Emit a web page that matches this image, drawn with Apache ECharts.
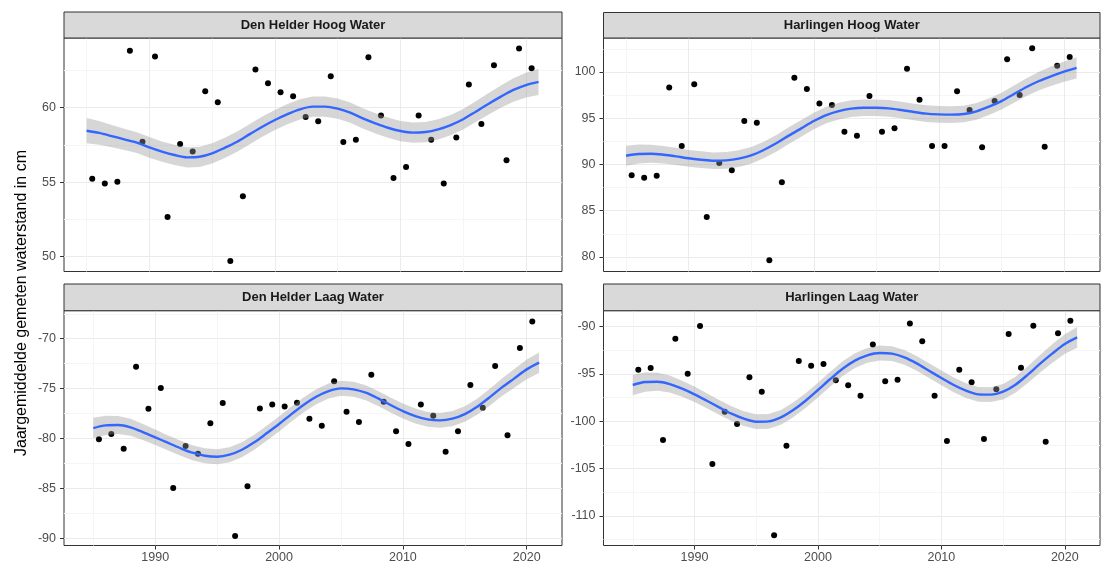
<!DOCTYPE html>
<html><head><meta charset="utf-8">
<script src="https://cdn.jsdelivr.net/npm/echarts@6/dist/echarts.min.js"></script>
<style>html,body{margin:0;padding:0;background:#fff}#c{width:1102px;height:565px}</style>
</head><body><div id="c"></div>
<script>
// ---------- DATA ----------
const years = [1985,1986,1987,1988,1989,1990,1991,1992,1993,1994,1995,1996,1997,1998,1999,2000,2001,2002,2003,2004,2005,2006,2007,2008,2009,2010,2011,2012,2013,2014,2015,2016,2017,2018,2019,2020];
const fitYears = [1985,1986,1987,1988,1989,1990,1991,1992,1993,1994,1995,1996,1997,1998,1999,2000,2001,2002,2003,2004,2005,2006,2007,2008,2009,2010,2011,2012,2013,2014,2015,2016,2017,2018,2019,2020,2021];
const panelTitles = ['Den Helder Hoog Water','Harlingen Hoog Water','Den Helder Laag Water','Harlingen Laag Water'];
const yTitle = 'Jaargemiddelde gemeten waterstand in cm';

const denHelderHoog = [55.22,54.91,55.02,63.83,57.71,63.43,52.65,57.56,57.06,61.10,60.36,49.69,54.04,62.56,61.64,61.03,60.76,59.37,59.08,62.11,57.69,57.85,63.39,59.48,55.27,56.01,59.48,57.85,54.91,58.00,61.55,58.90,62.85,56.46,63.97,62.65];
const harlingenHoog = [88.83,88.58,88.79,98.34,92.00,98.67,84.32,90.16,89.37,94.70,94.52,79.64,88.07,99.39,98.16,96.61,96.43,93.55,93.12,97.41,93.55,93.91,100.36,97.01,92.00,92.00,97.91,95.89,91.86,96.86,101.37,97.51,102.56,91.93,100.69,101.62];
const denHelderLaag = [-80.08,-79.55,-81.02,-72.80,-77.01,-74.94,-84.96,-80.75,-81.52,-78.48,-76.44,-89.77,-84.79,-76.98,-76.58,-76.78,-76.41,-78.01,-78.71,-74.27,-77.31,-78.35,-73.61,-76.31,-79.28,-80.55,-76.58,-77.71,-81.32,-79.28,-74.64,-76.91,-72.74,-79.68,-70.93,-68.26];
const harlingenLaag = [-94.54,-94.37,-101.97,-91.27,-94.96,-89.93,-104.51,-98.98,-100.28,-95.35,-96.87,-112.04,-102.57,-93.63,-94.12,-93.94,-95.67,-96.20,-97.29,-91.87,-95.77,-95.60,-89.65,-91.55,-97.29,-102.08,-94.54,-95.88,-101.87,-96.62,-90.77,-94.33,-89.89,-102.15,-90.70,-89.37];

// loess fit (centre) and band half-width per fitYear
const denHelderHoogFit = [58.45,58.30,58.09,57.87,57.65,57.33,57.05,56.82,56.66,56.70,56.93,57.30,57.71,58.22,58.72,59.17,59.57,59.89,60.07,60.07,59.93,59.66,59.28,58.95,58.65,58.43,58.32,58.36,58.54,58.83,59.22,59.73,60.25,60.74,61.19,61.52,61.73];
const harlingenHoogFit = [90.95,91.13,91.17,91.06,90.88,90.67,90.52,90.41,90.45,90.63,90.99,91.57,92.29,93.12,93.91,94.70,95.35,95.78,96.04,96.14,96.14,96.07,95.89,95.68,95.50,95.42,95.39,95.46,95.75,96.25,96.86,97.62,98.38,99.03,99.57,100.05,100.45];
const denHelderLaagFit = [-78.95,-78.68,-78.65,-78.88,-79.35,-79.88,-80.42,-80.95,-81.42,-81.72,-81.82,-81.62,-81.12,-80.38,-79.48,-78.55,-77.55,-76.61,-75.81,-75.24,-74.97,-75.07,-75.41,-75.98,-76.64,-77.25,-77.75,-78.08,-78.18,-78.01,-77.55,-76.81,-75.88,-74.87,-73.97,-73.07,-72.40];
const harlingenLaagFit = [-96.16,-95.85,-95.81,-96.06,-96.55,-97.15,-97.82,-98.52,-99.19,-99.72,-100.04,-100.00,-99.58,-98.80,-97.82,-96.69,-95.53,-94.44,-93.59,-93.03,-92.78,-92.85,-93.24,-93.87,-94.65,-95.42,-96.16,-96.76,-97.15,-97.18,-96.87,-96.13,-95.07,-93.91,-92.82,-91.83,-91.13];

const denHelderHoogBand = [0.85,0.80,0.75,0.72,0.70,0.69,0.68,0.68,0.68,0.68,0.68,0.68,0.68,0.68,0.68,0.68,0.68,0.68,0.68,0.68,0.68,0.68,0.68,0.68,0.68,0.68,0.68,0.68,0.68,0.68,0.69,0.70,0.72,0.75,0.79,0.83,0.88];
const harlingenHoogBand = [1.08,1.02,0.97,0.94,0.92,0.90,0.90,0.90,0.90,0.90,0.90,0.90,0.90,0.90,0.90,0.90,0.90,0.90,0.90,0.90,0.90,0.90,0.90,0.90,0.90,0.90,0.90,0.90,0.90,0.90,0.91,0.93,0.96,1.00,1.05,1.10,1.15];
const denHelderLaagBand = [1.03,0.96,0.90,0.85,0.80,0.78,0.76,0.75,0.75,0.75,0.75,0.75,0.75,0.75,0.75,0.75,0.75,0.75,0.75,0.75,0.75,0.75,0.75,0.75,0.75,0.75,0.75,0.75,0.75,0.76,0.78,0.80,0.84,0.88,0.93,0.98,1.03];
const harlingenLaagBand = [1.09,1.02,0.95,0.90,0.85,0.82,0.80,0.78,0.78,0.78,0.78,0.78,0.78,0.78,0.78,0.78,0.78,0.78,0.78,0.78,0.78,0.78,0.78,0.78,0.78,0.78,0.78,0.78,0.78,0.79,0.81,0.84,0.88,0.93,0.98,1.04,1.10];

// tick labels
const xTicks = [1990,2000,2010,2020];
const xMinorTicks = [1985,1995,2005,2015];
const denHelderHoogTicks = [50,55,60];
const denHelderHoogMinor = [52.5,57.5,62.5];
const harlingenHoogTicks = [80,85,90,95,100];
const harlingenHoogMinor = [82.5,87.5,92.5,97.5,102.5];
const denHelderLaagTicks = [-90,-85,-80,-75,-70];
const denHelderLaagMinor = [-87.5,-82.5,-77.5,-72.5,-67.5];
const harlingenLaagTicks = [-110,-105,-100,-95,-90];
const harlingenLaagMinor = [-112.5,-107.5,-102.5,-97.5,-92.5];

// ---------- LAYOUT ----------
const FONT = "'Liberation Sans', Arial, Helvetica, sans-serif";
const panels = [
  {title:panelTitles[0], pts:denHelderHoog, fit:denHelderHoogFit, band:denHelderHoogBand, ticks:denHelderHoogTicks, minor:denHelderHoogMinor,
   yMin:48.99, yMax:64.68, xMin:1983.2, xMax:2022.87, left:64, top:38, width:498, height:233.5, stripTop:12, showX:false},
  {title:panelTitles[1], pts:harlingenHoog, fit:harlingenHoogFit, band:harlingenHoogBand, ticks:harlingenHoogTicks, minor:harlingenHoogMinor,
   yMin:78.43, yMax:103.68, xMin:1983.2, xMax:2022.87, left:603.5, top:38, width:496.5, height:233.5, stripTop:12.5, showX:false},
  {title:panelTitles[2], pts:denHelderLaag, fit:denHelderLaagFit, band:denHelderLaagBand, ticks:denHelderLaagTicks, minor:denHelderLaagMinor,
   yMin:-90.72, yMax:-67.19, xMin:1982.63, xMax:2022.85, left:64, top:310.7, width:498, height:234.8, stripTop:284, showX:true},
  {title:panelTitles[3], pts:harlingenLaag, fit:harlingenLaagFit, band:harlingenLaagBand, ticks:harlingenLaagTicks, minor:harlingenLaagMinor,
   yMin:-113.12, yMax:-88.31, xMin:1982.63, xMax:2022.85, left:603.5, top:310.7, width:496.5, height:234.8, stripTop:284, showX:true}
];

const grids = [], xAxes = [], yAxes = [], series = [], graphics = [];
const MAJOR = '#EBEBEB', MINOR = '#F5F5F5';
const plain = v => String(v);

panels.forEach((p, i) => {
  grids.push({left:p.left, top:p.top, width:p.width, height:p.height, show:true, borderColor:'#333333', borderWidth:1, backgroundColor:'#ffffff', containLabel:false, outerBoundsMode:'none'});
  xAxes.push({gridIndex:i, type:'value', min:p.xMin, max:p.xMax, position:'bottom',
    axisLine:{show:false},
    axisTick:{show:p.showX, length:4, customValues:xTicks, lineStyle:{color:'#333333', width:1}},
    axisLabel:{show:p.showX, customValues:xTicks, formatter:plain, color:'#4D4D4D', fontSize:12.5, fontFamily:FONT, margin:6},
    splitLine:{show:true, lineStyle:{color:MAJOR, width:1}}});
  xAxes.push({gridIndex:i, type:'value', min:p.xMin, max:p.xMax, position:'bottom',
    axisLine:{show:false}, axisTick:{show:false, customValues:xMinorTicks}, axisLabel:{show:false, customValues:xMinorTicks},
    splitLine:{show:true, lineStyle:{color:MINOR, width:1}}});
  yAxes.push({gridIndex:i, type:'value', min:p.yMin, max:p.yMax, position:'left',
    axisLine:{show:false},
    axisTick:{show:true, length:4, customValues:p.ticks, lineStyle:{color:'#333333', width:1}},
    axisLabel:{show:true, customValues:p.ticks, formatter:plain, color:'#4D4D4D', fontSize:12.5, fontFamily:FONT, margin:8},
    splitLine:{show:true, lineStyle:{color:MAJOR, width:1}}});
  yAxes.push({gridIndex:i, type:'value', min:p.yMin, max:p.yMax, position:'left',
    axisLine:{show:false}, axisTick:{show:false, customValues:p.minor}, axisLabel:{show:false, customValues:p.minor},
    splitLine:{show:true, lineStyle:{color:MINOR, width:1}}});

  const xi = 2*i, yi = 2*i;
  series.push({type:'scatter', xAxisIndex:xi, yAxisIndex:yi, silent:true, z:2,
    symbolSize:6, itemStyle:{color:'#000000', opacity:1},
    data: years.map((y,k) => [y + 0.45, p.pts[k]])});
  // confidence band: one polygon through the library's coordinate mapping
  const upper = fitYears.map((y,k) => [y, p.fit[k] + p.band[k]]);
  const lower = fitYears.map((y,k) => [y, p.fit[k] - p.band[k]]);
  series.push({type:'custom', xAxisIndex:xi, yAxisIndex:yi, silent:true, z:3,
    data:[0],
    renderItem: (params, api) => {
      const pts = upper.map(d => api.coord(d)).concat(lower.slice().reverse().map(d => api.coord(d)));
      return {type:'polygon', shape:{points:pts}, style:{fill:'rgba(153,153,153,0.4)', stroke:'none'}};
    }});
  series.push({type:'line', xAxisIndex:xi, yAxisIndex:yi, silent:true, z:4,
    symbol:'none', smooth:0.3, lineStyle:{color:'#3366FF', width:2.4},
    data: fitYears.map((y,k) => [y, p.fit[k]])});

  graphics.push({type:'rect', z:10, shape:{x:p.left, y:p.stripTop, width:p.width, height:p.top - p.stripTop},
    style:{fill:'#D9D9D9', stroke:'#333333', lineWidth:1}});
  graphics.push({type:'text', z:11, x:p.left + p.width/2, y:(p.stripTop + p.top)/2,
    style:{text:p.title, fontSize:13, fontWeight:'bold', fontFamily:FONT, fill:'#1A1A1A', align:'center', verticalAlign:'middle'}});
});

graphics.push({type:'text', z:11, x:22, y:303, rotation:Math.PI/2,
  style:{text:yTitle, fontSize:16, fontFamily:FONT, fill:'#000000', align:'center', verticalAlign:'middle'}});

const chart = echarts.init(document.getElementById('c'), null, {renderer:'canvas'});
chart.setOption({
  animation:false,
  backgroundColor:'#ffffff',
  grid:grids, xAxis:xAxes, yAxis:yAxes, series:series, graphic:graphics
});
</script></body></html>
